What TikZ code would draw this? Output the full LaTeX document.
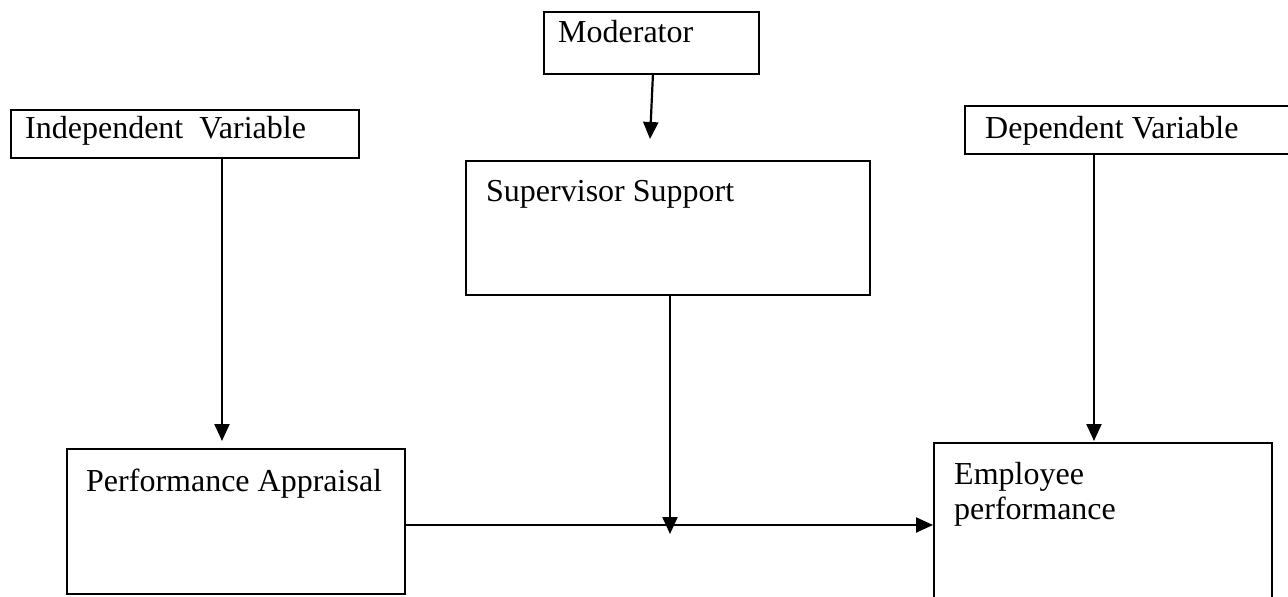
\documentclass[tikz,border=0pt]{standalone}
\usepackage{fontspec}
\setmainfont{Liberation Serif}
\usetikzlibrary{arrows.meta}
\begin{document}
\begin{tikzpicture}[x=1pt,y=-1pt,
  boxst/.style={draw,line width=1.8pt,rectangle,inner sep=0pt,anchor=north west},
  lbl/.style={anchor=base west,inner sep=0pt,font=\fontsize{32}{35}\selectfont},
  arr/.style={line width=2.2pt,-{Triangle[width=15pt,length=17pt]}},
  ln/.style={line width=2.2pt}]
\useasboundingbox (0,0) rectangle (1288,597);
\clip (0,0) rectangle (1288,597);
% boxes
\node[boxst,minimum width=215pt,minimum height=62pt] (mod) at (543,11) {};
\node[boxst,minimum width=348pt,minimum height=48pt] (ind) at (10,109) {};
\node[boxst,minimum width=340pt,minimum height=48pt] (dep) at (964,105) {};
\node[boxst,minimum width=404pt,minimum height=134pt] (sup) at (465,160) {};
\node[boxst,minimum width=338pt,minimum height=145pt] (pa) at (66,448) {};
\node[boxst,minimum width=338pt,minimum height=180pt] (emp) at (933,442) {};
% labels
\node[lbl] (tmod) at (558,42) {Moderator};
\node[lbl] (tind) at (25,138) {Independent\ \ Variable};
\node[lbl] (tdep) at (985,138) {Dependent Variable};
\node[lbl] (tsup) at (486,201) {Supervisor Support};
\node[lbl] (tpa) at (86,491) {Performance Appraisal};
\node[lbl] (temp1) at (954,484) {Employee};
\node[lbl] (temp2) at (954,519) {performance};
% coordinates
\coordinate (modtop) at (653,73);
\coordinate (modtip) at (650,139);
\coordinate (indbot) at (222,157);
\coordinate (paTop) at (222,441);
\coordinate (depbot) at (1094,153);
\coordinate (empTop) at (1094,441);
\coordinate (supbot) at (670,294);
\coordinate (suptip) at (670,534);
\coordinate (paright) at (404,525);
\coordinate (empleft) at (933,525);
% connectors
\draw[arr] (modtop) -- (modtip);
\draw[arr] (indbot) -- (paTop);
\draw[arr] (depbot) -- (empTop);
\draw[arr] (supbot) -- (suptip);
\draw[arr] (paright) -- (empleft);
\end{tikzpicture}
\end{document}
